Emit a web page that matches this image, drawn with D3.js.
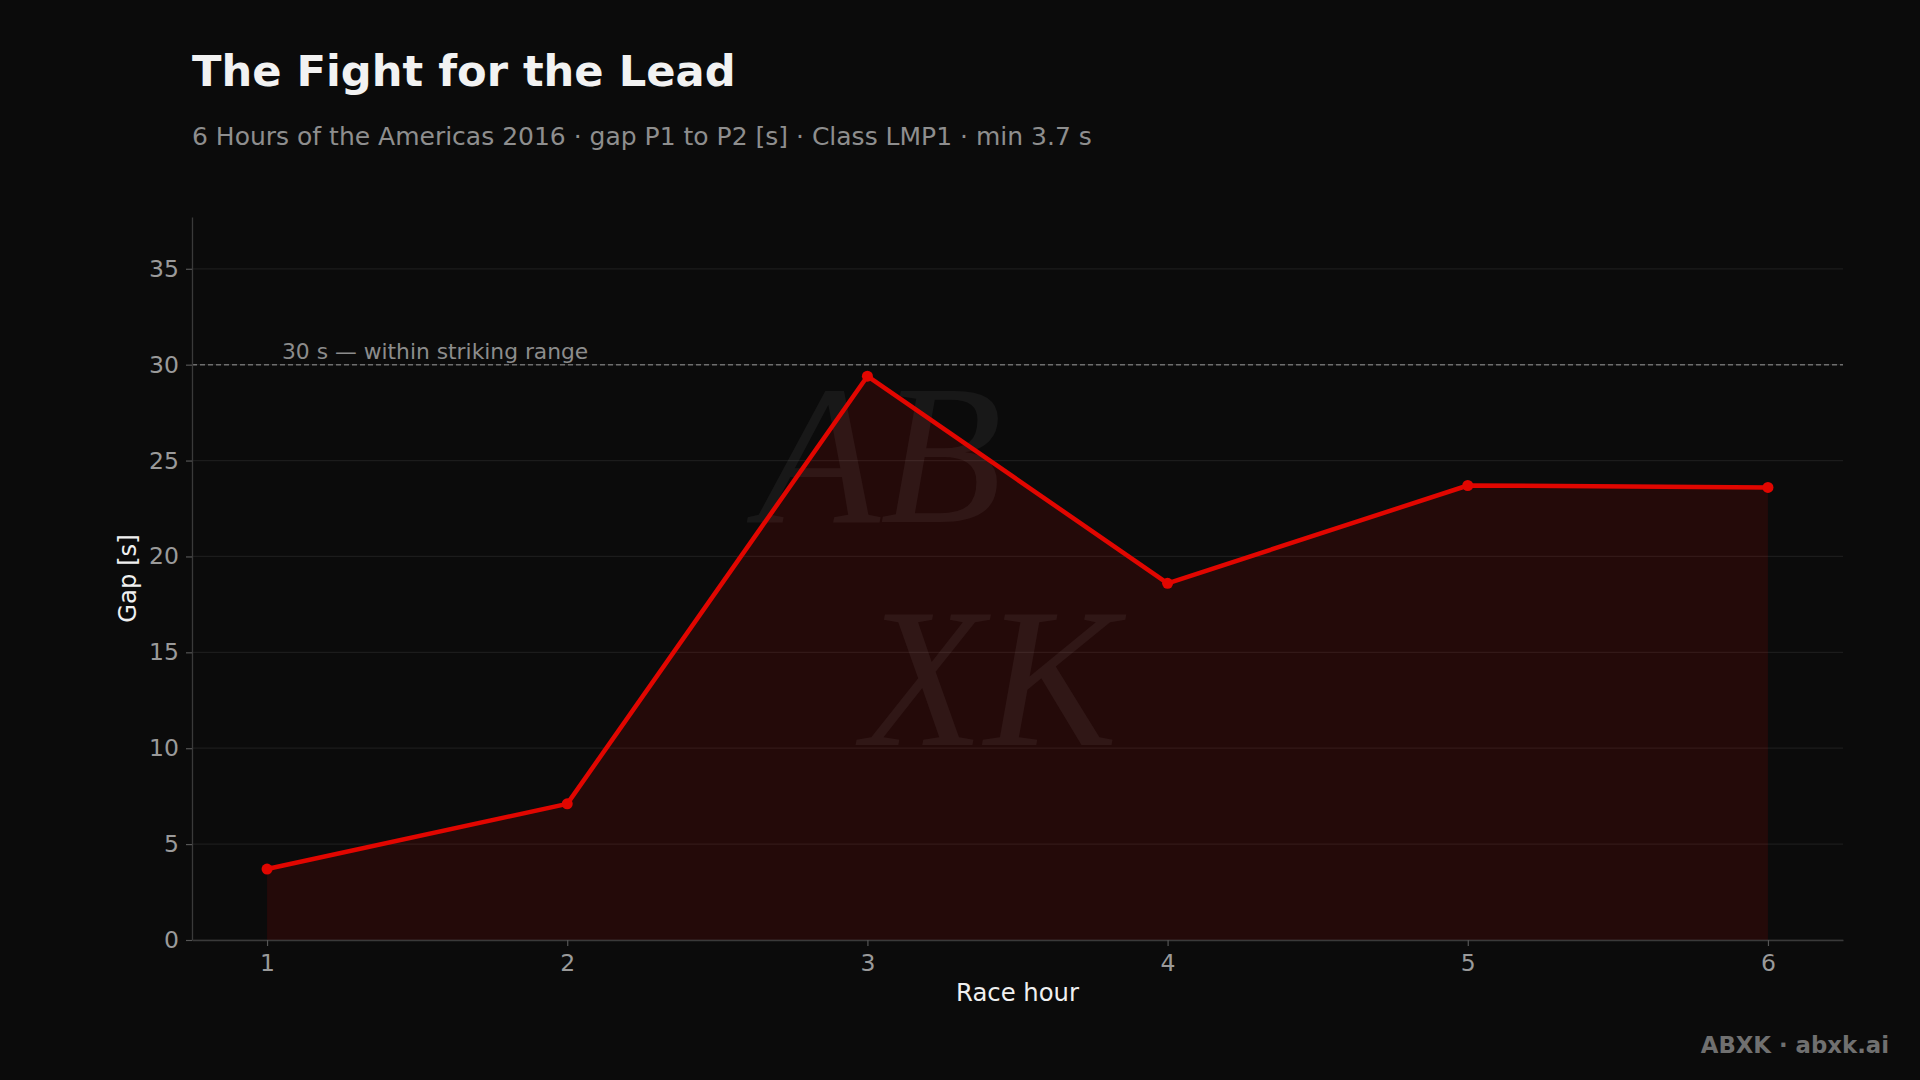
<!DOCTYPE html>
<html>
<head>
<meta charset="utf-8">
<script src="https://cdn.jsdelivr.net/npm/d3@7"></script>
<style>
  html, body { margin: 0; padding: 0; background: #0b0b0b; }
  svg { display: block; }
</style>
</head>
<body>
<svg id="chart" width="1920" height="1080"></svg>
<script>
// ---- data ----
const hours = [1, 2, 3, 4, 5, 6];
const gapSeconds = [3.7, 7.1, 29.4, 18.6, 23.7, 23.6];
const xTickValues = [1, 2, 3, 4, 5, 6];
const yTickValues = [0, 5, 10, 15, 20, 25, 30, 35];
const referenceValue = 30;
const referenceLabel = "30 s — within striking range";
const titleText = "The Fight for the Lead";
const subtitleText = "6 Hours of the Americas 2016 · gap P1 to P2 [s] · Class LMP1 · min 3.7 s";
const xLabelText = "Race hour";
const yLabelText = "Gap [s]";
const footerText = "ABXK · abxk.ai";

const points = hours.map((h, i) => ({ hour: h, gap: gapSeconds[i] }));

// ---- layout ----
const W = 1920, H = 1080;
const plot = { left: 192, right: 1843, top: 217, bottom: 940 };
const FONT = "'DejaVu Sans', sans-serif";
const RED = "#e10600";

const svg = d3.select("#chart");
svg.append("rect").attr("width", W).attr("height", H).attr("fill", "#0b0b0b");

const x = d3.scaleLinear().domain([0.75, 6.25]).range([plot.left, plot.right]);
const y = d3.scaleLinear().domain([0, 37.7]).range([plot.bottom, plot.top]);

// title + subtitle
svg.append("text").attr("x", 192).attr("y", 86)
  .attr("font-family", FONT).attr("font-weight", "bold").attr("font-size", 43.2)
  .attr("fill", "#f2f2f2").text(titleText);
svg.append("text").attr("x", 192).attr("y", 145)
  .attr("font-family", FONT).attr("font-size", 25)
  .attr("fill", "#8e8e8e").text(subtitleText);

// grid
svg.append("g").selectAll("line").data(yTickValues).join("line")
  .attr("x1", plot.left).attr("x2", plot.right)
  .attr("y1", d => y(d)).attr("y2", d => y(d))
  .attr("stroke", "#ffffff").attr("stroke-opacity", 0.07).attr("stroke-width", 1.2);

// area fill
const area = d3.area().x(d => x(d.hour)).y0(y(0)).y1(d => y(d.gap));
svg.append("path").datum(points).attr("d", area)
  .attr("fill", RED).attr("fill-opacity", 0.12);

// watermark (two rows, kept apart)
const wm = svg.append("g").attr("fill", "#ffffff").attr("fill-opacity", 0.055)
  .attr("font-family", "'Liberation Serif', 'DejaVu Serif', serif")
  .attr("font-style", "italic").attr("text-anchor", "middle").attr("font-size", 200);
wm.append("text").attr("x", 880).attr("y", 522).text("AB");
wm.append("text").attr("x", 990).attr("y", 745).text("XK");

// reference line
svg.append("line")
  .attr("x1", plot.left).attr("x2", plot.right)
  .attr("y1", y(referenceValue)).attr("y2", y(referenceValue))
  .attr("stroke", "#6e6e6e").attr("stroke-width", 1.5).attr("stroke-dasharray", "5,3");
svg.append("text").attr("x", 282).attr("y", y(referenceValue) - 6)
  .attr("font-family", FONT).attr("font-size", 21.8).attr("fill", "#8c8c8c")
  .text(referenceLabel);

// line + markers
const line = d3.line().x(d => x(d.hour)).y(d => y(d.gap));
svg.append("path").datum(points).attr("d", line)
  .attr("fill", "none").attr("stroke", RED).attr("stroke-width", 4.5)
  .attr("stroke-linejoin", "round").attr("stroke-linecap", "round");
svg.append("g").selectAll("circle").data(points).join("circle")
  .attr("cx", d => x(d.hour)).attr("cy", d => y(d.gap)).attr("r", 5.5)
  .attr("fill", RED);

// axes
const xAxis = svg.append("g").attr("transform", `translate(0,${plot.bottom})`)
  .call(d3.axisBottom(x).tickValues(xTickValues).tickFormat(d3.format("d"))
    .tickSizeInner(6).tickSizeOuter(0).tickPadding(8));
const yAxis = svg.append("g").attr("transform", `translate(${plot.left},0)`)
  .call(d3.axisLeft(y).tickValues(yTickValues).tickFormat(d3.format("d"))
    .tickSizeInner(6).tickSizeOuter(0).tickPadding(7));
[xAxis, yAxis].forEach(g => {
  g.select(".domain").attr("stroke", "#3a3a3a").attr("stroke-width", 1.3);
  g.selectAll(".tick line").attr("stroke", "#555555").attr("stroke-width", 1.2);
  g.selectAll(".tick text").attr("font-family", FONT).attr("font-size", 23.5)
    .attr("fill", "#9a9a9a");
});

// axis labels
svg.append("text").attr("x", (plot.left + plot.right) / 2).attr("y", 1001)
  .attr("text-anchor", "middle").attr("font-family", FONT).attr("font-size", 24.3)
  .attr("fill", "#f0f0f0").text(xLabelText);
svg.append("text")
  .attr("transform", `translate(136,${(plot.top + plot.bottom) / 2}) rotate(-90)`)
  .attr("text-anchor", "middle").attr("font-family", FONT).attr("font-size", 24.3)
  .attr("fill", "#f0f0f0").text(yLabelText);

// footer
svg.append("text").attr("x", 1889).attr("y", 1053).attr("text-anchor", "end")
  .attr("font-family", FONT).attr("font-weight", "bold").attr("font-size", 22.8)
  .attr("fill", "#707070").text(footerText);
</script>
</body>
</html>
